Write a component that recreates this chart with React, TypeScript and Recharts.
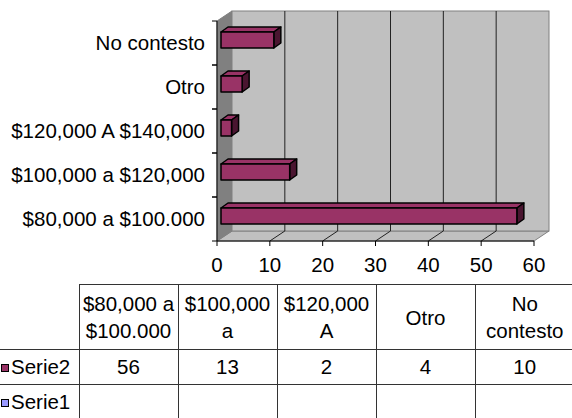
import React from "react";
import { BarChart, Bar, XAxis, YAxis, ReferenceArea, ReferenceLine } from "recharts";

/** Categories, bottom to top on the chart, left to right in the table. */
const CATEGORIES = [
  "$80,000 a $100.000",
  "$100,000 a $120,000",
  "$120,000 A $140,000",
  "Otro",
  "No contesto",
];

/** What the table header cells show (Excel clips the long labels). */
const HEADER_LINES = [
  ["$80,000 a", "$100.000"],
  ["$100,000", "a"],
  ["$120,000", "A"],
  ["Otro"],
  ["No", "contesto"],
];

const SERIE2 = [56, 13, 2, 4, 10];
const SERIE1: (number | null)[] = [null, null, null, null, null];

const X_TICKS = [0, 10, 20, 30, 40, 50, 60];

const FONT = '"Liberation Sans", Arial, sans-serif';
const FONT_SIZE = 20.5;

const WALL = "#C0C0C0";
const SIDE_WALL = "#808080";
const WALL_EDGE = "#808080";
const GRID = "#222222";
const SERIE2_COLOR = "#993366";
const SERIE2_SIDE = "#4A1530";
const SERIE1_COLOR = "#9999FF";

/** Depth of the 3D box and of the bars, in px. */
const DEPTH_X = 15;
const DEPTH_Y = 10;
const BAR_DX = 7;
const BAR_DY = 5;
const BAR_SHIFT_X = 4;
const BAR_SHIFT_Y = 3;

const Y_TICK_SIZE = 5;
const Y_TICK_MARGIN = 7;

const rows = CATEGORIES.map((name, i) => ({
  name,
  serie2: SERIE2[i],
  serie1: SERIE1[i],
}));

/** Back wall, side wall and floor, drawn from the plot rectangle. */
function Walls({ x, y, width, height }: any) {
  const b = y + height;
  return (
    <g>
      <polygon
        points={`${x},${b} ${x + DEPTH_X},${b - DEPTH_Y} ${x + width + DEPTH_X},${b - DEPTH_Y} ${x + width},${b}`}
        fill={WALL}
        stroke={WALL_EDGE}
      />
      <polygon
        points={`${x},${y} ${x + DEPTH_X},${y - DEPTH_Y} ${x + DEPTH_X},${b - DEPTH_Y} ${x},${b}`}
        fill={SIDE_WALL}
        stroke={WALL_EDGE}
      />
      <rect
        x={x + DEPTH_X}
        y={y - DEPTH_Y}
        width={width}
        height={height}
        fill={WALL}
        stroke={WALL_EDGE}
      />
    </g>
  );
}

/** Gridline on the back wall plus its diagonal across the floor. */
function DepthGridLine({ x1, y1, y2 }: any) {
  const top = Math.min(y1, y2);
  const bottom = Math.max(y1, y2);
  return (
    <g>
      <line x1={x1 + DEPTH_X} y1={top - DEPTH_Y} x2={x1 + DEPTH_X} y2={bottom - DEPTH_Y} stroke={GRID} />
      <line x1={x1} y1={bottom} x2={x1 + DEPTH_X} y2={bottom - DEPTH_Y} stroke={GRID} />
    </g>
  );
}

/** Extruded bar: front face, top face and right side. */
function Bar3D({ x, y, width, height }: any) {
  if (!width || width <= 0) return null;
  const fx = x + BAR_SHIFT_X;
  const fy = y - BAR_SHIFT_Y;
  const r = fx + width;
  const b = fy + height;
  return (
    <g stroke="#000" strokeWidth={1.5} strokeLinejoin="round">
      <polygon
        points={`${fx},${fy} ${fx + BAR_DX},${fy - BAR_DY} ${r + BAR_DX},${fy - BAR_DY} ${r},${fy}`}
        fill={SERIE2_COLOR}
      />
      <polygon
        points={`${r},${fy} ${r + BAR_DX},${fy - BAR_DY} ${r + BAR_DX},${b - BAR_DY} ${r},${b}`}
        fill={SERIE2_SIDE}
      />
      <rect x={fx} y={fy} width={width} height={height} fill={SERIE2_COLOR} />
    </g>
  );
}

/** Category label with tick marks at the band edges, like Excel. */
function CategoryTick({ x, y, payload }: any) {
  const half = payload?.offset ?? 22;
  const axisX = x + Y_TICK_SIZE + Y_TICK_MARGIN;
  return (
    <g>
      <line x1={axisX - Y_TICK_SIZE} x2={axisX} y1={y - half} y2={y - half} stroke="#000" />
      <line x1={axisX - Y_TICK_SIZE} x2={axisX} y1={y + half} y2={y + half} stroke="#000" />
      <text
        x={x}
        y={y}
        dy="0.36em"
        textAnchor="end"
        fontSize={FONT_SIZE}
        fontFamily={FONT}
        fill="#000"
      >
        {payload.value}
      </text>
    </g>
  );
}

const cellBorder = "1px solid #333";

function LegendKey({ color }: { color: string }) {
  return (
    <span
      style={{
        display: "inline-block",
        width: 6,
        height: 6,
        border: "1px solid #000",
        background: color,
        marginRight: 2,
        marginLeft: 1,
        verticalAlign: "middle",
        position: "relative",
        top: -1,
      }}
    />
  );
}

function DataTable() {
  const seriesRows = [
    { name: "Serie2", color: SERIE2_COLOR, values: SERIE2 },
    { name: "Serie1", color: SERIE1_COLOR, values: SERIE1 },
  ];
  return (
    <table
      style={{
        position: "absolute",
        left: 0,
        top: 284,
        borderCollapse: "collapse",
        tableLayout: "fixed",
        width: 79 + 5 * 99,
        fontFamily: FONT,
        fontSize: FONT_SIZE,
        color: "#000",
      }}
    >
      <colgroup>
        <col style={{ width: 79 }} />
        {CATEGORIES.map((c) => (
          <col key={c} style={{ width: 99 }} />
        ))}
      </colgroup>
      <tbody>
        <tr style={{ height: 65 }}>
          <td style={{ borderBottom: cellBorder, borderRight: cellBorder, padding: 0 }} />
          {HEADER_LINES.map((lines, i) => (
            <td
              key={i}
              style={{
                border: cellBorder,
                borderRight: i === HEADER_LINES.length - 1 ? "none" : cellBorder,
                textAlign: "center",
                verticalAlign: "middle",
                lineHeight: "27px",
                padding: 0,
                whiteSpace: "nowrap",
              }}
            >
              {lines.map((l) => (
                <div key={l}>{l}</div>
              ))}
            </td>
          ))}
        </tr>
        {seriesRows.map((row) => (
          <tr key={row.name} style={{ height: 35 }}>
            <td
              style={{
                borderTop: cellBorder,
                borderBottom: cellBorder,
                borderRight: cellBorder,
                padding: 0,
                whiteSpace: "nowrap",
              }}
            >
              <LegendKey color={row.color} />
              {row.name}
            </td>
            {row.values.map((v, i) => (
              <td
                key={i}
                style={{
                  border: cellBorder,
                  borderRight: i === row.values.length - 1 ? "none" : cellBorder,
                  textAlign: "center",
                  padding: 0,
                }}
              >
                {v ?? ""}
              </td>
            ))}
          </tr>
        ))}
      </tbody>
    </table>
  );
}

export default function App() {
  return (
    <div
      style={{
        position: "relative",
        width: 572,
        height: 418,
        overflow: "hidden",
        background: "#fff",
        fontFamily: FONT,
      }}
    >
      <style>{`body { margin: 0; }`}</style>
      <BarChart
        width={572}
        height={418}
        data={rows}
        layout="vertical"
        margin={{ top: 21, right: 38, bottom: 147, left: 0 }}
        barSize={16}
      >
        <ReferenceArea x1={0} x2={60} shape={<Walls />} zIndex={-200} ifOverflow="visible" />
        {X_TICKS.slice(1, -1).map((t) => (
          <ReferenceLine key={t} x={t} shape={<DepthGridLine />} zIndex={-150} />
        ))}
        <XAxis
          type="number"
          domain={[0, 60]}
          ticks={X_TICKS}
          interval={0}
          height={30}
          tickSize={5}
          tickMargin={11}
          axisLine={{ stroke: "#000" }}
          tickLine={{ stroke: "#000" }}
          tick={{ fill: "#000", fontSize: FONT_SIZE, fontFamily: FONT }}
        />
        <YAxis
          type="category"
          dataKey="name"
          reversed
          width={217}
          interval={0}
          tickSize={Y_TICK_SIZE}
          tickMargin={Y_TICK_MARGIN}
          axisLine={{ stroke: "#000" }}
          tickLine={false}
          tick={<CategoryTick />}
        />
        <Bar dataKey="serie2" name="Serie2" shape={<Bar3D />} isAnimationActive={false} />
      </BarChart>
      <DataTable />
    </div>
  );
}
